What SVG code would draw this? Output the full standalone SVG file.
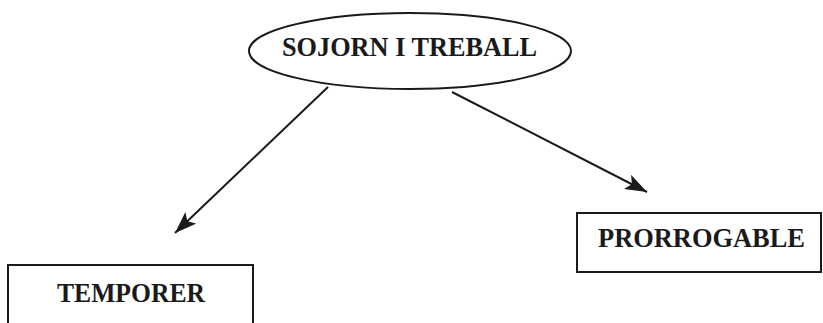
<svg xmlns="http://www.w3.org/2000/svg" width="823" height="323" viewBox="0 0 823 323">
<style>
.shape{fill:#fff;stroke:#1a1a1a;stroke-width:2}
.lbl{font-family:"Liberation Serif","Times New Roman",serif;font-weight:bold;font-size:27px;fill:#1a1a1a}
.conn{stroke:#1a1a1a;stroke-width:2;fill:none}
</style>
<defs>
<marker id="ah" viewBox="0 0 22 16" refX="22" refY="8" markerWidth="22" markerHeight="16" markerUnits="userSpaceOnUse" orient="auto">
<path d="M0,0 L22,8 L0,16 L5,8 Z" fill="#1a1a1a"/>
</marker>
</defs>
<g id="connectors">
<line class="conn" x1="328" y1="87" x2="175" y2="233" marker-end="url(#ah)"/>
<line class="conn" x1="452" y1="92" x2="647" y2="192" marker-end="url(#ah)"/>
</g>
<g id="sojorn">
<ellipse class="shape" cx="410" cy="51" rx="161" ry="38"/>
<text class="lbl" x="282" y="56" textLength="255" lengthAdjust="spacingAndGlyphs">SOJORN I TREBALL</text>
</g>
<g id="temporer">
<path class="shape" d="M8,330 L8,265 L253,265 L253,330"/>
<text class="lbl" x="57" y="302" textLength="148" lengthAdjust="spacingAndGlyphs">TEMPORER</text>
</g>
<g id="prorrogable">
<rect class="shape" x="577" y="213" width="244" height="59"/>
<text class="lbl" x="598" y="247" textLength="207" lengthAdjust="spacingAndGlyphs">PRORROGABLE</text>
</g>
</svg>
